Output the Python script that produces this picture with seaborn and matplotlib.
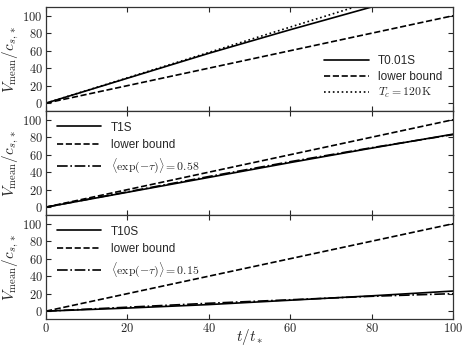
import numpy as np
import pandas as pd
import matplotlib
matplotlib.use("Agg")
import matplotlib.pyplot as plt
import seaborn as sns
from matplotlib.ticker import FuncFormatter, MultipleLocator

sns.set_style("ticks")
plt.rcParams['font.family'] = ['Liberation Sans', 'DejaVu Sans']
plt.rcParams['mathtext.fontset'] = 'cm'

t = [0, 20, 40, 60, 80, 100]
# Panel 1
p1_sim = [0, 28.5, 57, 84, 110, 136]
p1_lower = [0, 20, 40, 60, 80, 100]
p1_tc = [0, 29, 58, 87, 116, 145]
# Panel 2
p2_sim = [0, 17, 34, 51, 67.5, 83.5]
p2_lower = [0, 20, 40, 60, 80, 100]
p2_exp = [0, 17.5, 35, 52, 68, 83]
# Panel 3
p3_sim = [0, 3.5, 7.5, 12.5, 17.5, 23]
p3_lower = [0, 20, 40, 60, 80, 100]
p3_exp = [0, 4.5, 9, 13, 17, 20]

labels1 = ["T0.01S", "lower bound", r"$T_c = 120\,\mathrm{K}$"]
labels2 = ["T1S", "lower bound", r"$\langle \exp(-\tau)\rangle = 0.58$"]
labels3 = ["T10S", "lower bound", r"$\langle \exp(-\tau)\rangle = 0.15$"]

fig = plt.figure(figsize=(4.63, 3.48), dpi=100)
left, right = 46/463, 453/463
tops = [7, 111, 215]
h = 104
axes = []
for tp in tops:
    ax = fig.add_axes([left, 1 - (tp + h)/348, right - left, h/348])
    axes.append(ax)

panels = [
    (p1_sim, p1_lower, p1_tc, labels1, ":", "lower right", 0.3),
    (p2_sim, p2_lower, p2_exp, labels2, "-.", "upper left", 0.45),
    (p3_sim, p3_lower, p3_exp, labels3, "-.", "upper left", 0.45),
]
fmt = FuncFormatter(lambda v, p: f"${v:g}$")
for i, (ax, (sim, low, third, labs, ls3, loc, lsp)) in enumerate(zip(axes, panels)):
    sns.lineplot(x=t, y=sim, ax=ax, color="black", lw=1.2, linestyle="-", label=labs[0])
    sns.lineplot(x=t, y=low, ax=ax, color="black", lw=1.2, linestyle="--", label=labs[1])
    sns.lineplot(x=t, y=third, ax=ax, color="black", lw=1.2, linestyle=ls3, label=labs[2])
    ax.set_xlim(0, 100)
    ax.set_ylim(-9, 110)
    ax.xaxis.set_major_locator(MultipleLocator(20))
    ax.yaxis.set_major_locator(MultipleLocator(20))
    ax.tick_params(direction="in", top=True, right=True, length=3.5, width=0.8,
                   labelsize=9, pad=2.5)
    ax.xaxis.set_major_formatter(fmt)
    ax.yaxis.set_major_formatter(fmt)
    for s in ax.spines.values():
        s.set_linewidth(0.9)
        s.set_color("#333333")
    ax.set_ylabel(r"$V_{\rm mean}/c_{s,*}$", fontsize=11)
    ax.yaxis.set_label_coords(-0.062, 0.5)
    if i < 2:
        ax.tick_params(labelbottom=False)
        ax.set_xlabel("")
    else:
        ax.set_xlabel(r"$t/t_*$", fontsize=11)
        ax.xaxis.set_label_coords(0.5, -0.075)
    ax.legend(loc=loc, frameon=False, fontsize=8.5, handlelength=3.8,
              labelspacing=lsp, borderaxespad=0.5, handletextpad=0.8)

fig.savefig("out.png", dpi=100)
